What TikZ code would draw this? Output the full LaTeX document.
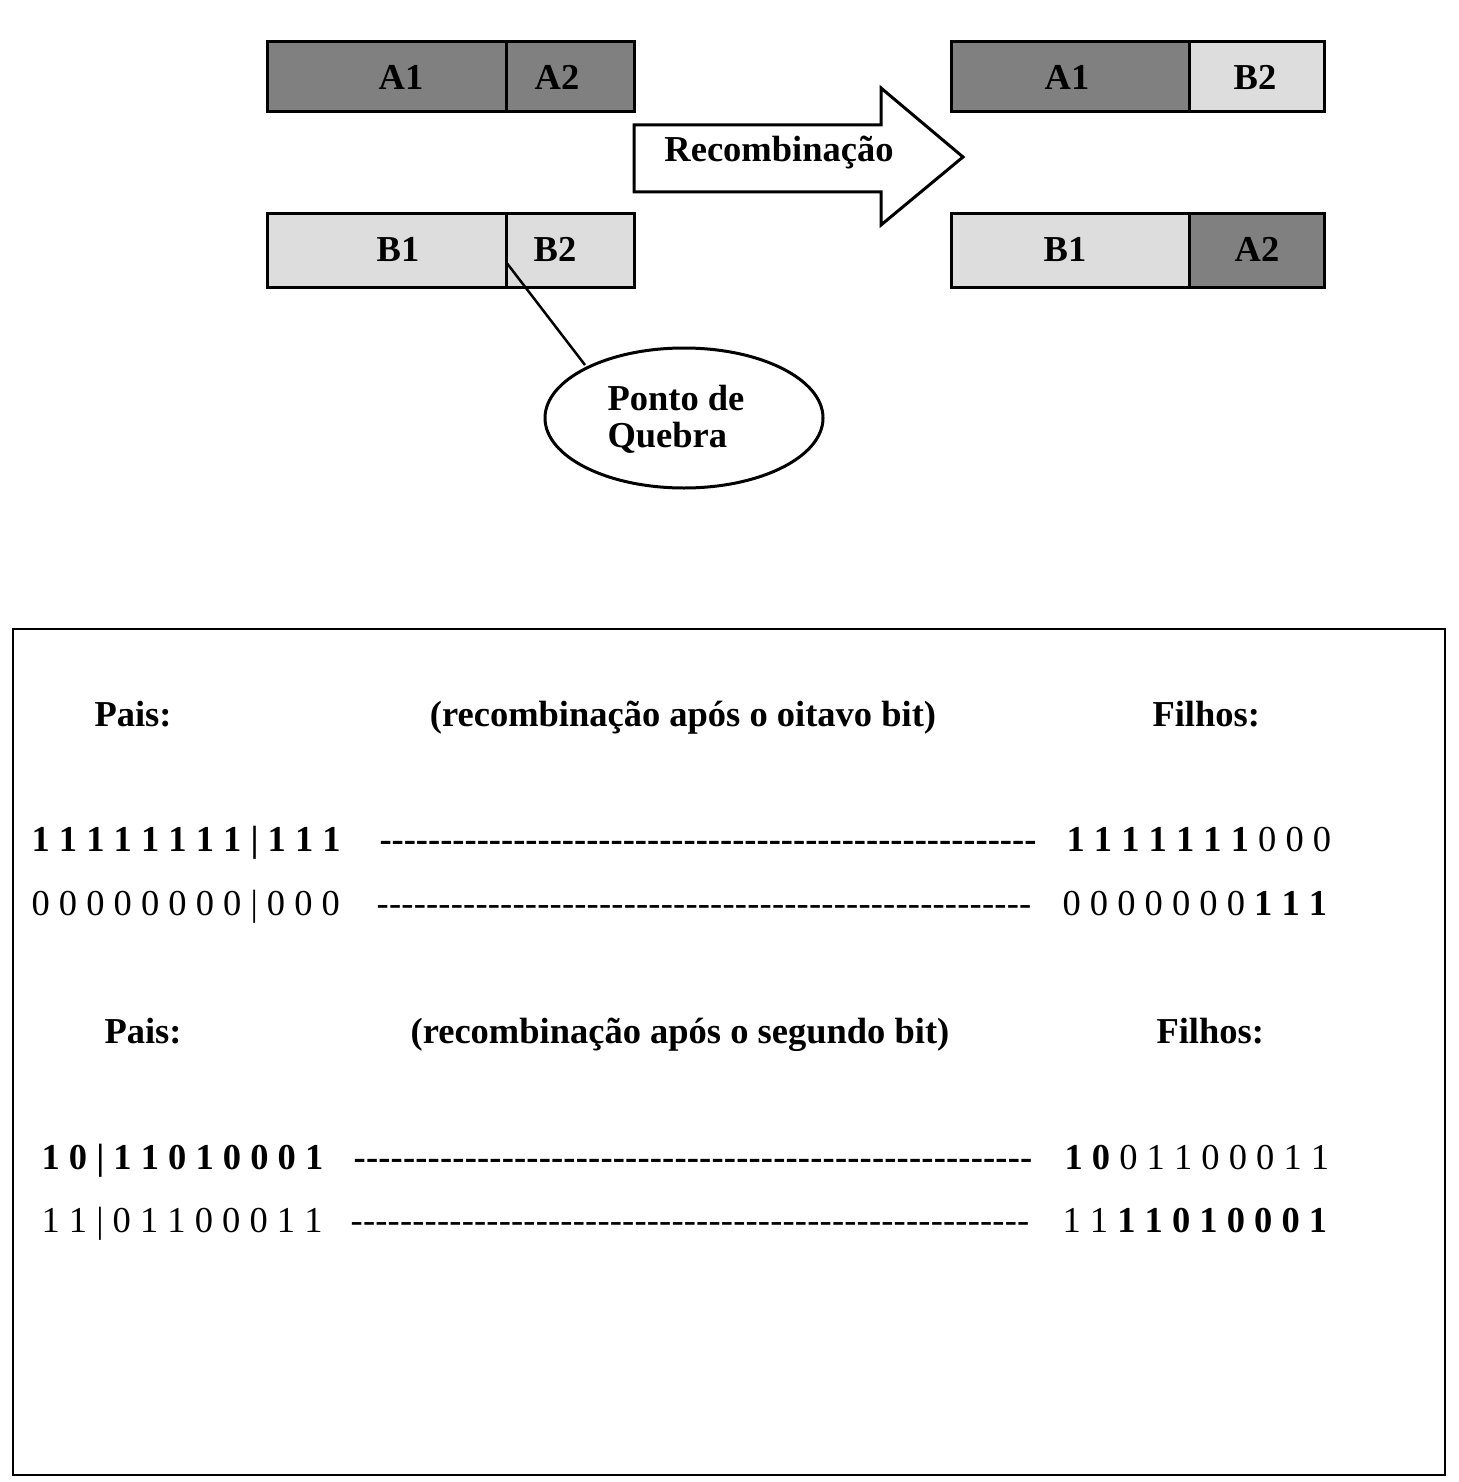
\documentclass[tikz,border=0pt]{standalone}
\usepackage{fontspec}
\setmainfont{Liberation Serif}
\usetikzlibrary{shapes.geometric}
\definecolor{dk}{HTML}{808080}
\definecolor{lt}{HTML}{DDDDDD}
\newcommand\dashfill[1]{\hbox to #1pt{\xleaders\hbox{-}\hfill}}
\begin{document}
\begin{tikzpicture}[x=1pt,y=-1pt,line width=3pt,
  lbl/.style={font=\fontsize{36.5}{40}\selectfont\bfseries,inner sep=0pt},
  txt/.style={font=\fontsize{36.5}{40}\selectfont,inner sep=0pt},
  gene/.style={draw=black,line width=3pt}]
\useasboundingbox (0,0) rectangle (1458,1482);
% parents
\draw[gene,fill=dk] (267,42) rectangle (506,112);
\draw[gene,fill=dk] (506,42) rectangle (634,112);
\draw[gene,fill=lt] (267,213) rectangle (506,287);
\draw[gene,fill=lt] (506,213) rectangle (634,287);
% children
\draw[gene,fill=dk] (951,42) rectangle (1189,112);
\draw[gene,fill=lt] (1189,42) rectangle (1324,112);
\draw[gene,fill=lt] (951,213) rectangle (1189,287);
\draw[gene,fill=dk] (1189,213) rectangle (1324,287);
\node[lbl,anchor=base] (pa1) at (401,90) {A1};
\node[lbl,anchor=base] (pa2) at (557,90) {A2};
\node[lbl,anchor=base] (pb1) at (398,261) {B1};
\node[lbl,anchor=base] (pb2) at (555,261) {B2};
\node[lbl,anchor=base] (ca1) at (1067,90) {A1};
\node[lbl,anchor=base] (cb2) at (1255,90) {B2};
\node[lbl,anchor=base] (cb1) at (1065,261) {B1};
\node[lbl,anchor=base] (ca2) at (1257,261) {A2};
% arrow
\draw[fill=white] (634,125) -- (881,125) -- (881,88) -- (963,157) -- (881,225) -- (881,192) -- (634,192) -- cycle;
\node[lbl,anchor=base] (rec) at (779,162) {Recombinação};
% break point
\node[draw,ellipse,line width=3pt,minimum width=278,minimum height=140,inner sep=0pt] (ell) at (684,418) {};
\node[lbl,anchor=base west] (pt1) at (606,410) {Ponto de};
\node[lbl,anchor=base west] (pt2) at (606,447) {Quebra};
\coordinate (brk) at (506,262);
\coordinate (brkend) at (585,365);
\draw[line width=2.5pt] (brk) -- (brkend);
% bottom panel
\draw[line width=2.8pt] (13,629) rectangle (1445,1475);
\node[lbl,anchor=base west] (p1) at (93,726) {Pais:};
\node[lbl,anchor=base] (r1) at (683,726) {(recombinação após o oitavo bit)};
\node[lbl,anchor=base west] (f1) at (1151,726) {Filhos:};
\node[lbl,anchor=base west] (l1) at (30,851) {1 1 1 1 1 1 1 1 | 1 1 1};
\node[lbl,anchor=base west] (d1) at (378,851) {\dashfill{657}};
\node[txt,anchor=base west] (c1) at (1065,851) {\textbf{1 1 1 1 1 1 1} 0 0 0};
\node[txt,anchor=base west] (l2) at (30,915) {0 0 0 0 0 0 0 0 | 0 0 0};
\node[txt,anchor=base west] (d2) at (375,915) {\dashfill{655}};
\node[txt,anchor=base west] (c2) at (1061,915) {0 0 0 0 0 0 0 \textbf{1 1 1}};
\node[lbl,anchor=base west] (p2) at (103,1043) {Pais:};
\node[lbl,anchor=base] (r2) at (680,1043) {(recombinação após o segundo bit)};
\node[lbl,anchor=base west] (f2) at (1155,1043) {Filhos:};
\node[lbl,anchor=base west] (l3) at (40,1169) {1 0 | 1 1 0 1 0 0 0 1};
\node[lbl,anchor=base west] (d3) at (352,1169) {\dashfill{679}};
\node[txt,anchor=base west] (c3) at (1063,1169) {\textbf{1 0} 0 1 1 0 0 0 1 1};
\node[txt,anchor=base west] (l4) at (40,1232) {1 1 | 0 1 1 0 0 0 1 1};
\node[txt,anchor=base west] (d4) at (349,1232) {\dashfill{679}};
\node[txt,anchor=base west] (c4) at (1061,1232) {1 1 \textbf{1 1 0 1 0 0 0 1}};
\end{tikzpicture}
\end{document}
